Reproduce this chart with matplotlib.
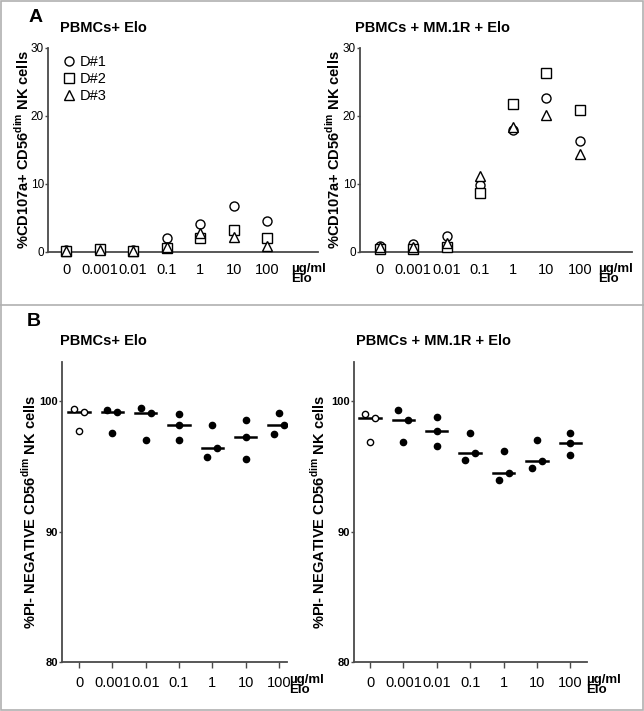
import numpy as np
import matplotlib
matplotlib.use("Agg")
import matplotlib.pyplot as plt
from matplotlib.lines import Line2D
from matplotlib.patches import Rectangle

plt.rcParams['font.family'] = ['Liberation Sans', 'DejaVu Sans']
plt.rcParams['mathtext.fontset'] = 'custom'
plt.rcParams['mathtext.rm'] = 'Liberation Sans'
plt.rcParams['mathtext.bf'] = 'Liberation Sans:bold'

# categories (Elo concentration, ug/ml)
conc = ['0', '0.001', '0.01', '0.1', '1', '10', '100']
donors = ['D#1', 'D#2', 'D#3']

# panel A: %CD107a+ CD56dim NK cells, one list per donor
a_elo = {
    'D#1': [0.3, 0.4, 0.3, 2.1, 4.1, 6.7, 4.5],
    'D#2': [0.2, 0.4, 0.2, 0.6, 2.1, 3.3, 2.1],
    'D#3': [0.2, 0.3, 0.2, 0.7, 2.8, 2.2, 0.9],
}
a_mm = {
    'D#1': [0.9, 1.1, 2.4, 9.9, 18.0, 22.6, 16.3],
    'D#2': [0.5, 0.4, 0.7, 8.7, 21.8, 26.3, 20.9],
    'D#3': [0.7, 0.8, 1.3, 11.2, 18.4, 20.2, 14.4],
}

# panel B: %PI- negative CD56dim NK cells, three values per concentration
b_elo = [
    [99.37, 99.16, 97.7],
    [99.31, 99.18, 97.58],
    [99.44, 99.06, 97.0],
    [98.98, 98.14, 97.0],
    [98.19, 95.7, 96.4],
    [98.57, 97.28, 95.57],
    [99.08, 97.46, 98.14],
]
b_mm = [
    [98.98, 98.68, 96.9],
    [99.29, 98.57, 96.9],
    [98.8, 97.71, 96.59],
    [97.58, 95.5, 96.03],
    [96.18, 93.94, 94.52],
    [97.0, 94.89, 95.39],
    [97.58, 96.79, 95.9],
]

markers = {'D#1': 'o', 'D#2': 's', 'D#3': '^'}
axis_col = '#4a4a4a'


def style_axes(ax):
    for s in ['top', 'right']:
        ax.spines[s].set_visible(False)
    for s in ['left', 'bottom']:
        ax.spines[s].set_color(axis_col)
        ax.spines[s].set_linewidth(1.3)
    ax.tick_params(axis='y', color=axis_col, length=2.5, width=1, pad=0.5)


def unit_label(ax, x, y):
    ax.text(x, y, 'µg/ml\nElo', transform=ax.transAxes, fontsize=9.5,
            fontweight='bold', ha='left', va='top', linespacing=0.8)


def spread(vals, thr=0.75, d=0.15):
    # column scatter: points closer than thr get pushed sideways
    order = np.argsort(vals)[::-1]
    offs = np.zeros(len(vals))
    groups = [[order[0]]]
    for i in order[1:]:
        if vals[groups[-1][-1]] - vals[i] < thr:
            groups[-1].append(i)
        else:
            groups.append([i])
    for g in groups:
        g = sorted(g)
        for k, i in enumerate(g):
            offs[i] = (k - (len(g) - 1) / 2) * 2 * d
    return offs


fig = plt.figure(figsize=(6.44, 7.11), dpi=100)

# ---- panel A ----
a_title = ['PBMCs+ Elo', 'PBMCs + MM.1R + Elo']
a_pos = [[0.0745, 0.6456, 0.4193, 0.2869], [0.559, 0.6456, 0.4224, 0.2869]]
a_xlim = [(-0.54, 7.52), (-0.6, 7.57)]
for j, data in enumerate([a_elo, a_mm]):
    ax = fig.add_axes(a_pos[j])
    x = np.arange(len(conc))
    for dn in donors:
        ax.plot(x, data[dn], ls='none', marker=markers[dn], ms=6.5 if dn != 'D#3' else 7,
                mfc='white', mec='black', mew=1.0, label=dn, clip_on=False, zorder=3)
    ax.set_xlim(*a_xlim[j])
    ax.set_ylim(0, 30)
    ax.set_yticks([0, 10, 20, 30])
    ax.set_xticks(x)
    ax.set_xticklabels(conc, fontsize=10.5)
    ax.tick_params(axis='x', length=0, pad=8)
    style_axes(ax)
    ax.tick_params(axis='y', labelsize=8.5)
    ax.set_ylabel(r'%CD107a+ CD56$^{\mathbf{dim}}$ NK cells', fontsize=10.5,
                  fontweight='bold')
    ax.yaxis.set_label_coords(-0.062, 0.5)
    ax.text(0.045 if j == 0 else -0.02, 1.1, a_title[j], transform=ax.transAxes,
            fontsize=10.5, fontweight='bold', ha='left', va='center')
    unit_label(ax, 0.9 if j == 0 else 0.874, -0.055)
    if j == 0:
        ax.legend(loc='upper left', bbox_to_anchor=(0.02, 1.0), frameon=False,
                  fontsize=10.5, handletextpad=0.1, labelspacing=0.2,
                  borderaxespad=0.1, handlelength=1.2)

# ---- panel B ----
b_title = ['PBMCs+ Elo', 'PBMCs + MM.1R + Elo']
b_pos = [[0.0963, 0.0689, 0.3494, 0.4219], [0.5497, 0.0689, 0.3618, 0.4219]]
b_xlim = [(-0.51, 6.24), (-0.48, 6.5)]
b_lab_x = [-0.105, -0.112]
for j, data in enumerate([b_elo, b_mm]):
    ax = fig.add_axes(b_pos[j])
    for i, vals in enumerate(data):
        vals = np.array(vals)
        xs = i + spread(vals)
        face = 'white' if i == 0 else 'black'
        ax.plot(xs, vals, ls='none', marker='o', ms=4.5, mfc=face, mec='black',
                mew=1.0, zorder=3)
        ax.plot([i - 0.32, i + 0.32], [np.median(vals)] * 2, color='black',
                lw=1.8, zorder=2)
    ax.set_xlim(*b_xlim[j])
    ax.set_ylim(80, 103)
    ax.set_yticks([80, 90, 100])
    ax.set_xticks(range(len(conc)))
    ax.set_xticklabels(conc, fontsize=10.5)
    ax.tick_params(axis='x', length=4, width=1, color=axis_col, pad=6)
    style_axes(ax)
    ax.tick_params(axis='y', labelsize=8)
    for t in ax.get_yticklabels():
        t.set_fontweight('bold')
    ax.set_ylabel(r'%PI- NEGATIVE CD56$^{\mathbf{dim}}$ NK cells', fontsize=10.5,
                  fontweight='bold')
    ax.yaxis.set_label_coords(b_lab_x[j], 0.5)
    ax.text(-0.01 if j == 0 else 0.01, 1.07, b_title[j], transform=ax.transAxes,
            fontsize=10.5, fontweight='bold', ha='left', va='center')
    unit_label(ax, 1.01 if j == 0 else 0.995, -0.04)

# panel letters and frames
fig.text(0.055, 1 - 17 / 711, 'A', fontsize=14, fontweight='bold', ha='center', va='center')
fig.text(0.053, 1 - 322 / 711, 'B', fontsize=14, fontweight='bold', ha='center', va='center')
fig.patches.append(Rectangle((0.001, 0.001), 0.998, 0.998, transform=fig.transFigure,
                             fill=False, ec='#b0b0b0', lw=1.2))
fig.lines.append(Line2D([0, 1], [1 - 305 / 711] * 2, transform=fig.transFigure,
                        color='#b0b0b0', lw=1.2))

fig.savefig('out.png', dpi=100)
